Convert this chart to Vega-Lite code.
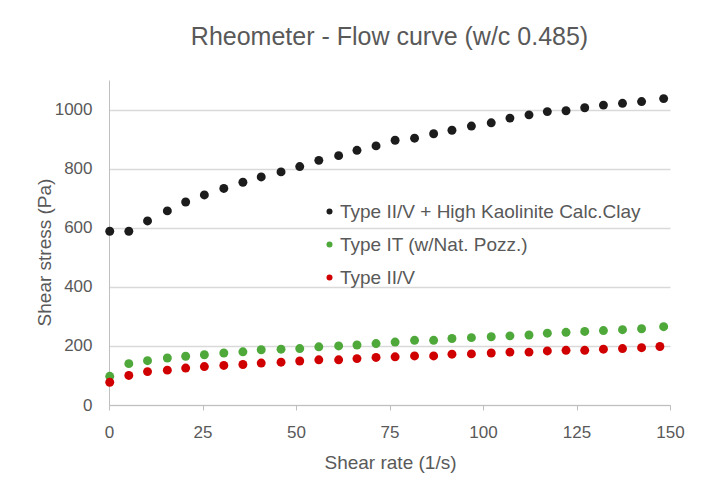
{
  "$schema": "https://vega.github.io/schema/vega-lite/v6.json",
  "width": 561,
  "height": 325,
  "autosize": {"type": "none"},
  "padding": {"left": 109, "top": 80, "right": 57, "bottom": 81},
  "background": "white",
  "title": {
    "text": "Rheometer - Flow curve (w/c 0.485)",
    "font": "Liberation Sans",
    "fontSize": 25,
    "fontWeight": "normal",
    "color": "#595959",
    "anchor": "middle",
    "offset": 30
  },
  "data": {
    "values": [
      {"series": "Type II/V + High Kaolinite Calc.Clay", "rate": 0.2, "stress": 588},
      {"series": "Type II/V + High Kaolinite Calc.Clay", "rate": 5.3, "stress": 588},
      {"series": "Type II/V + High Kaolinite Calc.Clay", "rate": 10.3, "stress": 623},
      {"series": "Type II/V + High Kaolinite Calc.Clay", "rate": 15.6, "stress": 657},
      {"series": "Type II/V + High Kaolinite Calc.Clay", "rate": 20.5, "stress": 687},
      {"series": "Type II/V + High Kaolinite Calc.Clay", "rate": 25.5, "stress": 711},
      {"series": "Type II/V + High Kaolinite Calc.Clay", "rate": 30.7, "stress": 733},
      {"series": "Type II/V + High Kaolinite Calc.Clay", "rate": 35.8, "stress": 754},
      {"series": "Type II/V + High Kaolinite Calc.Clay", "rate": 40.7, "stress": 772},
      {"series": "Type II/V + High Kaolinite Calc.Clay", "rate": 46.0, "stress": 789},
      {"series": "Type II/V + High Kaolinite Calc.Clay", "rate": 51.0, "stress": 807},
      {"series": "Type II/V + High Kaolinite Calc.Clay", "rate": 56.1, "stress": 828},
      {"series": "Type II/V + High Kaolinite Calc.Clay", "rate": 61.4, "stress": 844},
      {"series": "Type II/V + High Kaolinite Calc.Clay", "rate": 66.3, "stress": 862},
      {"series": "Type II/V + High Kaolinite Calc.Clay", "rate": 71.4, "stress": 877},
      {"series": "Type II/V + High Kaolinite Calc.Clay", "rate": 76.5, "stress": 896},
      {"series": "Type II/V + High Kaolinite Calc.Clay", "rate": 81.7, "stress": 903},
      {"series": "Type II/V + High Kaolinite Calc.Clay", "rate": 86.8, "stress": 918},
      {"series": "Type II/V + High Kaolinite Calc.Clay", "rate": 91.7, "stress": 930},
      {"series": "Type II/V + High Kaolinite Calc.Clay", "rate": 96.9, "stress": 944},
      {"series": "Type II/V + High Kaolinite Calc.Clay", "rate": 102.2, "stress": 955},
      {"series": "Type II/V + High Kaolinite Calc.Clay", "rate": 107.2, "stress": 971},
      {"series": "Type II/V + High Kaolinite Calc.Clay", "rate": 112.3, "stress": 982},
      {"series": "Type II/V + High Kaolinite Calc.Clay", "rate": 117.2, "stress": 993},
      {"series": "Type II/V + High Kaolinite Calc.Clay", "rate": 122.2, "stress": 996},
      {"series": "Type II/V + High Kaolinite Calc.Clay", "rate": 127.2, "stress": 1006},
      {"series": "Type II/V + High Kaolinite Calc.Clay", "rate": 132.2, "stress": 1015},
      {"series": "Type II/V + High Kaolinite Calc.Clay", "rate": 137.3, "stress": 1021},
      {"series": "Type II/V + High Kaolinite Calc.Clay", "rate": 142.4, "stress": 1027},
      {"series": "Type II/V + High Kaolinite Calc.Clay", "rate": 148.3, "stress": 1037},
      {"series": "Type IT (w/Nat. Pozz.)", "rate": 0.2, "stress": 97},
      {"series": "Type IT (w/Nat. Pozz.)", "rate": 5.3, "stress": 140},
      {"series": "Type IT (w/Nat. Pozz.)", "rate": 10.3, "stress": 150},
      {"series": "Type IT (w/Nat. Pozz.)", "rate": 15.6, "stress": 159},
      {"series": "Type IT (w/Nat. Pozz.)", "rate": 20.5, "stress": 165},
      {"series": "Type IT (w/Nat. Pozz.)", "rate": 25.5, "stress": 170},
      {"series": "Type IT (w/Nat. Pozz.)", "rate": 30.7, "stress": 176},
      {"series": "Type IT (w/Nat. Pozz.)", "rate": 35.8, "stress": 180},
      {"series": "Type IT (w/Nat. Pozz.)", "rate": 40.7, "stress": 187},
      {"series": "Type IT (w/Nat. Pozz.)", "rate": 46.0, "stress": 189},
      {"series": "Type IT (w/Nat. Pozz.)", "rate": 51.0, "stress": 191},
      {"series": "Type IT (w/Nat. Pozz.)", "rate": 56.1, "stress": 197},
      {"series": "Type IT (w/Nat. Pozz.)", "rate": 61.4, "stress": 200},
      {"series": "Type IT (w/Nat. Pozz.)", "rate": 66.3, "stress": 203},
      {"series": "Type IT (w/Nat. Pozz.)", "rate": 71.4, "stress": 208},
      {"series": "Type IT (w/Nat. Pozz.)", "rate": 76.5, "stress": 213},
      {"series": "Type IT (w/Nat. Pozz.)", "rate": 81.7, "stress": 219},
      {"series": "Type IT (w/Nat. Pozz.)", "rate": 86.8, "stress": 219},
      {"series": "Type IT (w/Nat. Pozz.)", "rate": 91.7, "stress": 225},
      {"series": "Type IT (w/Nat. Pozz.)", "rate": 96.9, "stress": 228},
      {"series": "Type IT (w/Nat. Pozz.)", "rate": 102.2, "stress": 231},
      {"series": "Type IT (w/Nat. Pozz.)", "rate": 107.2, "stress": 234},
      {"series": "Type IT (w/Nat. Pozz.)", "rate": 112.3, "stress": 237},
      {"series": "Type IT (w/Nat. Pozz.)", "rate": 117.2, "stress": 243},
      {"series": "Type IT (w/Nat. Pozz.)", "rate": 122.2, "stress": 246},
      {"series": "Type IT (w/Nat. Pozz.)", "rate": 127.2, "stress": 249},
      {"series": "Type IT (w/Nat. Pozz.)", "rate": 132.2, "stress": 252},
      {"series": "Type IT (w/Nat. Pozz.)", "rate": 137.3, "stress": 255},
      {"series": "Type IT (w/Nat. Pozz.)", "rate": 142.4, "stress": 258},
      {"series": "Type IT (w/Nat. Pozz.)", "rate": 148.3, "stress": 265},
      {"series": "Type II/V", "rate": 0.2, "stress": 77},
      {"series": "Type II/V", "rate": 5.3, "stress": 100},
      {"series": "Type II/V", "rate": 10.3, "stress": 113},
      {"series": "Type II/V", "rate": 15.6, "stress": 118},
      {"series": "Type II/V", "rate": 20.5, "stress": 125},
      {"series": "Type II/V", "rate": 25.5, "stress": 130},
      {"series": "Type II/V", "rate": 30.7, "stress": 134},
      {"series": "Type II/V", "rate": 35.8, "stress": 137},
      {"series": "Type II/V", "rate": 40.7, "stress": 142},
      {"series": "Type II/V", "rate": 46.0, "stress": 145},
      {"series": "Type II/V", "rate": 51.0, "stress": 149},
      {"series": "Type II/V", "rate": 56.1, "stress": 153},
      {"series": "Type II/V", "rate": 61.4, "stress": 153},
      {"series": "Type II/V", "rate": 66.3, "stress": 157},
      {"series": "Type II/V", "rate": 71.4, "stress": 161},
      {"series": "Type II/V", "rate": 76.5, "stress": 163},
      {"series": "Type II/V", "rate": 81.7, "stress": 166},
      {"series": "Type II/V", "rate": 86.8, "stress": 166},
      {"series": "Type II/V", "rate": 91.7, "stress": 172},
      {"series": "Type II/V", "rate": 96.9, "stress": 173},
      {"series": "Type II/V", "rate": 102.2, "stress": 176},
      {"series": "Type II/V", "rate": 107.2, "stress": 179},
      {"series": "Type II/V", "rate": 112.3, "stress": 179},
      {"series": "Type II/V", "rate": 117.2, "stress": 183},
      {"series": "Type II/V", "rate": 122.2, "stress": 185},
      {"series": "Type II/V", "rate": 127.2, "stress": 185},
      {"series": "Type II/V", "rate": 132.2, "stress": 189},
      {"series": "Type II/V", "rate": 137.3, "stress": 191},
      {"series": "Type II/V", "rate": 142.4, "stress": 194},
      {"series": "Type II/V", "rate": 147.3, "stress": 198}
    ]
  },
  "mark": {"type": "point", "filled": true, "opacity": 1, "size": 80, "shape": "circle"},
  "encoding": {
    "x": {
      "field": "rate",
      "type": "quantitative",
      "scale": {"domain": [0, 150], "nice": false, "zero": true},
      "axis": {
        "title": "Shear rate (1/s)",
        "values": [0, 25, 50, 75, 100, 125, 150],
        "format": "d",
        "labelFlush": false,
        "grid": false,
        "domainColor": "#bfbfbf",
        "tickColor": "#bfbfbf",
        "tickSize": 5,
        "labelPadding": 22,
        "labelBaseline": "middle",
        "labelFont": "Liberation Sans",
        "labelFontSize": 17,
        "labelColor": "#595959",
        "titleFont": "Liberation Sans",
        "titleFontSize": 19,
        "titleFontWeight": "normal",
        "titleColor": "#595959",
        "titleX": 281,
        "titleY": 57,
        "titleBaseline": "middle",
        "titleAlign": "center"
      }
    },
    "y": {
      "field": "stress",
      "type": "quantitative",
      "scale": {"domain": [0, 1100], "nice": false},
      "axis": {
        "title": "Shear stress (Pa)",
        "values": [0, 200, 400, 600, 800, 1000],
        "format": "d",
        "labelFlush": false,
        "grid": true,
        "gridColor": "#d9d9d9",
        "gridWidth": 1.5,
        "ticks": false,
        "domainColor": "#bfbfbf",
        "labelPadding": 17,
        "labelFont": "Liberation Sans",
        "labelFontSize": 17,
        "labelColor": "#595959",
        "titleFont": "Liberation Sans",
        "titleFontSize": 19,
        "titleFontWeight": "normal",
        "titleColor": "#595959",
        "titleAngle": -90,
        "titleX": -65,
        "titleY": 172,
        "titleBaseline": "middle",
        "titleAlign": "center"
      }
    },
    "color": {
      "field": "series",
      "type": "nominal",
      "scale": {
        "domain": ["Type II/V + High Kaolinite Calc.Clay", "Type IT (w/Nat. Pozz.)", "Type II/V"],
        "range": ["#1c1c1c", "#4ea83a", "#d00000"]
      },
      "legend": {
        "title": null,
        "orient": "none",
        "legendX": 211,
        "legendY": 122,
        "padding": 0,
        "symbolType": "circle",
        "symbolSize": 36,
        "labelOffset": 1,
        "rowPadding": 13,
        "labelFont": "Liberation Sans",
        "labelFontSize": 19,
        "labelColor": "#595959",
        "labelLimit": 0
      }
    }
  },
  "config": {
    "view": {"stroke": null}
  }
}
